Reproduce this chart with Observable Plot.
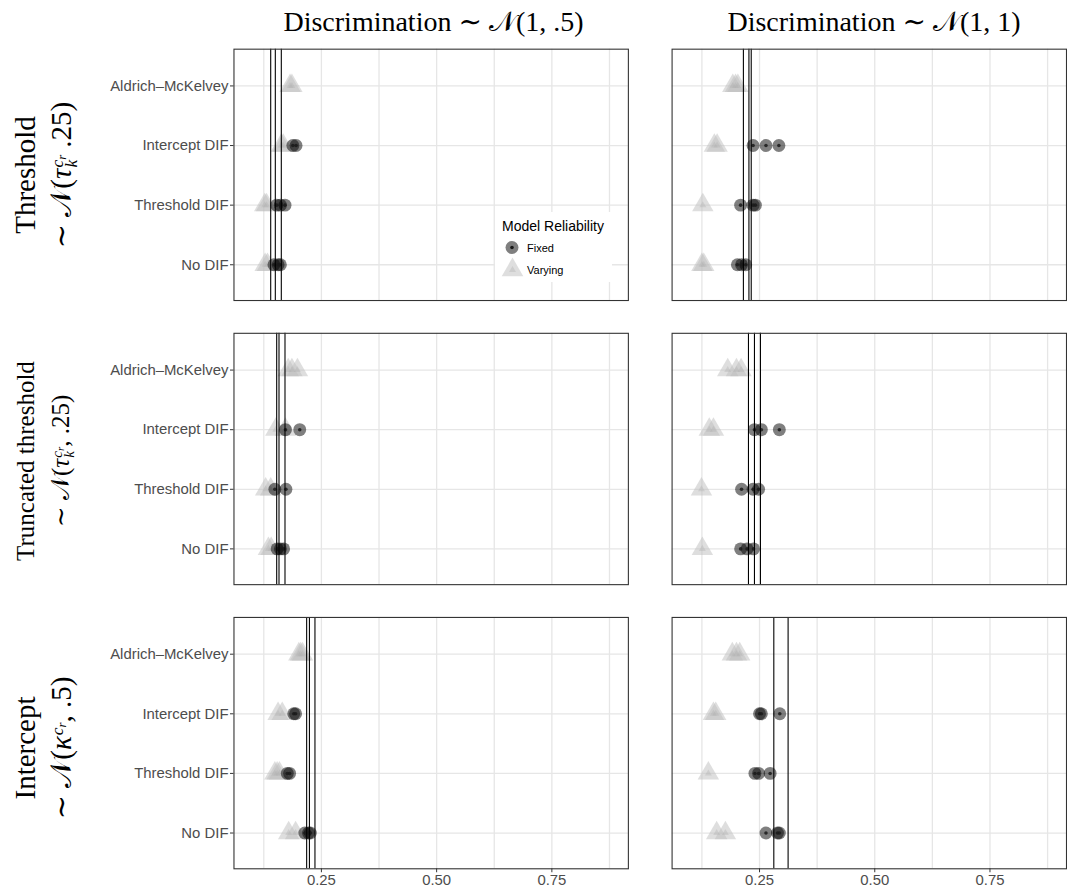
<!DOCTYPE html>
<html>
<head>
<meta charset="utf-8">
<script src="https://cdn.jsdelivr.net/npm/d3@7"></script>
<script src="https://cdn.jsdelivr.net/npm/@observablehq/plot@0.6"></script>
<style>
  html, body { margin: 0; padding: 0; background: white; overflow: hidden; width: 1067px; height: 892px; }
  #wrap { position: relative; width: 1067px; height: 892px; overflow: hidden; }
  #chart { position: absolute; left: 0; top: 0; }
  #chart svg text { font-size: 15px !important; font-family: "Liberation Sans", Arial, sans-serif !important; }
  .serif { font-family: "Liberation Serif", "DejaVu Serif", serif; color: #000; white-space: nowrap; }
  .colhead { position: absolute; transform: translate(-50%, -50%); font-size: 28px; }
  .rl { position: absolute; transform: translate(-50%, -50%) rotate(-90deg); text-align: center; }
  .ss { display: inline-block; vertical-align: -0.32em; line-height: 0.8; font-size: 0.6em; text-align: left; margin-left: 1px; }
  .ss > span { display: block; }
  .sb { font-size: 0.72em; position: relative; top: 0.25em; }
  #legend { position: absolute; left: 495px; top: 212px; width: 117px; height: 70px; background: white; }
</style>
</head>
<body>
<div id="wrap">
  <div id="chart"></div>
</div>
<script>
// ---- data ----
const categories = ["Aldrich–McKelvey", "Intercept DIF", "Threshold DIF", "No DIF"];
const rowKeys = ["Threshold", "Truncated", "Intercept"];
const colKeys = ["Disc05", "Disc1"];

// Fixed model reliability estimates (per category, in the order of `categories`)
const fixedThrD05 = [[], [0.188, 0.195], [0.153, 0.161, 0.171], [0.147, 0.156, 0.161]];
const fixedThrD1  = [[], [0.236, 0.264, 0.292], [0.209, 0.236, 0.241], [0.202, 0.211, 0.220]];
const fixedTrnD05 = [[], [0.172, 0.203], [0.149, 0.173], [0.154, 0.161, 0.168]];
const fixedTrnD1  = [[], [0.239, 0.254, 0.293], [0.211, 0.236, 0.248], [0.209, 0.223, 0.237]];
const fixedIntD05 = [[], [0.190, 0.194], [0.176, 0.181], [0.214, 0.222, 0.226]];
const fixedIntD1  = [[], [0.250, 0.254, 0.294], [0.240, 0.248, 0.273], [0.264, 0.289, 0.293]];

// Varying model reliability estimates
const varyThrD05 = [[0.182, 0.186], [0.163, 0.167], [0.127, 0.131], [0.128, 0.133]];
const varyThrD1  = [[0.192, 0.198, 0.203], [0.152, 0.158], [0.127], [0.125, 0.129]];
const varyTrnD05 = [[0.178, 0.186, 0.198], [0.151, 0.172], [0.129, 0.140], [0.135, 0.141]];
const varyTrnD1  = [[0.181, 0.200, 0.210], [0.141, 0.150], [0.124], [0.126]];
const varyIntD05 = [[0.201, 0.205, 0.209], [0.156, 0.165], [0.149, 0.154, 0.159], [0.179, 0.194]];
const varyIntD1  = [[0.191, 0.200, 0.207], [0.150, 0.155], [0.139], [0.157, 0.176]];

// Reference (vertical) lines
const refThrD05 = [0.140, 0.150, 0.163];
const refThrD1  = [0.215, 0.227, 0.232];
const refTrnD05 = [0.153, 0.158, 0.171];
const refTrnD1  = [0.226, 0.239, 0.252];
const refIntD05 = [0.218, 0.224, 0.236];
const refIntD1  = [0.281, 0.312];

const xTicks = [0.25, 0.5, 0.75];
const xGrid = [0.125, 0.25, 0.375, 0.5, 0.625, 0.75, 0.875];

// ---- build tables ----
const panels = [
  ["Threshold", "Disc05", fixedThrD05, varyThrD05, refThrD05],
  ["Threshold", "Disc1",  fixedThrD1,  varyThrD1,  refThrD1],
  ["Truncated", "Disc05", fixedTrnD05, varyTrnD05, refTrnD05],
  ["Truncated", "Disc1",  fixedTrnD1,  varyTrnD1,  refTrnD1],
  ["Intercept", "Disc05", fixedIntD05, varyIntD05, refIntD05],
  ["Intercept", "Disc1",  fixedIntD1,  varyIntD1,  refIntD1]
];
const fixedRows = [], varyRows = [], refRows = [];
for (const [row, col, fixed, vary, refs] of panels) {
  categories.forEach((cat, i) => {
    for (const v of fixed[i]) fixedRows.push({row, col, cat, value: v});
    for (const v of vary[i]) varyRows.push({row, col, cat, value: v});
  });
  for (const v of refs) refRows.push({row, col, value: v});
}

const chart = Plot.plot({
  width: 1074,
  height: 892,
  marginLeft: 235,
  marginRight: 1,
  marginTop: 48,
  marginBottom: 18,
  style: {background: "white", fontFamily: "'Liberation Sans', Arial, sans-serif", fontSize: "15px", overflow: "visible"},
  x: {domain: [0.0603, 0.916]},
  y: {type: "point", domain: categories, padding: 0.6},
  fx: {domain: colKeys, axis: null, paddingInner: 0.0998, paddingOuter: 0},
  fy: {domain: rowKeys, axis: null, paddingInner: 0.117, paddingOuter: 0},
  marks: [
    Plot.gridX(xGrid, {stroke: "#e6e6e6", strokeOpacity: 1, strokeWidth: 1.3}),
    Plot.gridY(categories, {stroke: "#e6e6e6", strokeOpacity: 1, strokeWidth: 1.3}),
    Plot.dot(varyRows, {x: "value", y: "cat", fx: "col", fy: "row", symbol: "triangle", r: 8, fill: "#bdbdbd", fillOpacity: 0.5}),
    Plot.dot(varyRows, {x: "value", y: "cat", fx: "col", fy: "row", symbol: "triangle", r: 2.6, fill: "#b0b0b0", fillOpacity: 0.35}),
    Plot.dot(fixedRows, {x: "value", y: "cat", fx: "col", fy: "row", r: 6.5, fill: "black", fillOpacity: 0.5}),
    Plot.dot(fixedRows, {x: "value", y: "cat", fx: "col", fy: "row", r: 1.8, fill: "#1a1a1a", fillOpacity: 0.85}),
    Plot.ruleX(refRows, {x: "value", fx: "col", fy: "row", stroke: "black", strokeWidth: 1.1}),
    Plot.frame({stroke: "#333", strokeWidth: 1.1}),
    Plot.axisY(categories, {anchor: "left", label: null, tickSize: 3.5, tickPadding: 2, stroke: "#333", fill: "#4d4d4d", fontSize: 15}),
    Plot.axisX(xTicks, {anchor: "bottom", label: null, tickSize: 4, tickPadding: 2, tickFormat: d3.format(".2f"), stroke: "#333", fill: "#4d4d4d", fontSize: 15})
  ]
});
document.getElementById("chart").appendChild(chart);

// ---- headers, strip labels, legend ----
const wrap = document.getElementById("wrap");
const N = '𝒩';
const tauSS = '<i>τ</i><span class="ss"><span><i>c</i><i class="sb">r</i></span><span><i>k</i></span></span>';
const kapSS = '<i>κ</i><span class="ss"><span><i>c</i><i class="sb">r</i></span><span>&nbsp;</span></span>';
const colHeads = [
  ["Discrimination ∼ " + N + "(1, .5)", 433.5],
  ["Discrimination ∼ " + N + "(1, 1)", 874]
];
for (const [html, cx] of colHeads) {
  const d = document.createElement("div");
  d.className = "serif colhead";
  d.style.left = cx + "px";
  d.style.top = "22px";
  d.innerHTML = html;
  wrap.appendChild(d);
}
const rowLabs = [
  ["Threshold", "∼ " + N + "(" + tauSS + " .25)", 174.5, 29, 36],
  ["Truncated threshold", "∼ " + N + "(" + tauSS + ", .25)", 461, 25, 35],
  ["Intercept", "∼ " + N + "(" + kapSS + ", .5)", 747.5, 29, 36]
];
for (const [l1, l2, cy, fs, lh] of rowLabs) {
  const d = document.createElement("div");
  d.className = "serif rl";
  d.style.left = "43px";
  d.style.top = cy + "px";
  d.style.fontSize = fs + "px";
  d.style.lineHeight = lh + "px";
  d.innerHTML = "<div>" + l1 + "</div><div>" + l2 + "</div>";
  wrap.appendChild(d);
}
const leg = document.createElement("div");
leg.id = "legend";
leg.innerHTML = `
<svg width="117" height="70" style="position:absolute;left:0;top:0;font-family:'Liberation Sans', Arial, sans-serif">
  <text x="7" y="19" font-size="14" fill="#000">Model Reliability</text>
  <circle cx="17" cy="35.5" r="6.5" fill="black" fill-opacity="0.5"></circle>
  <circle cx="17" cy="35.5" r="1.8" fill="#1a1a1a"></circle>
  <text x="32" y="39.5" font-size="11" fill="#000">Fixed</text>
  <path transform="translate(17.5,58)" d="${d3.symbol(d3.symbolTriangle, 64 * Math.PI)()}" fill="#bdbdbd" fill-opacity="0.5"></path>
  <path transform="translate(17.5,58)" d="${d3.symbol(d3.symbolTriangle, 2.6 * 2.6 * Math.PI)()}" fill="#b0b0b0" fill-opacity="0.35"></path>
  <text x="32" y="62" font-size="11" fill="#000">Varying</text>
</svg>`;
wrap.appendChild(leg);
</script>
</body>
</html>
